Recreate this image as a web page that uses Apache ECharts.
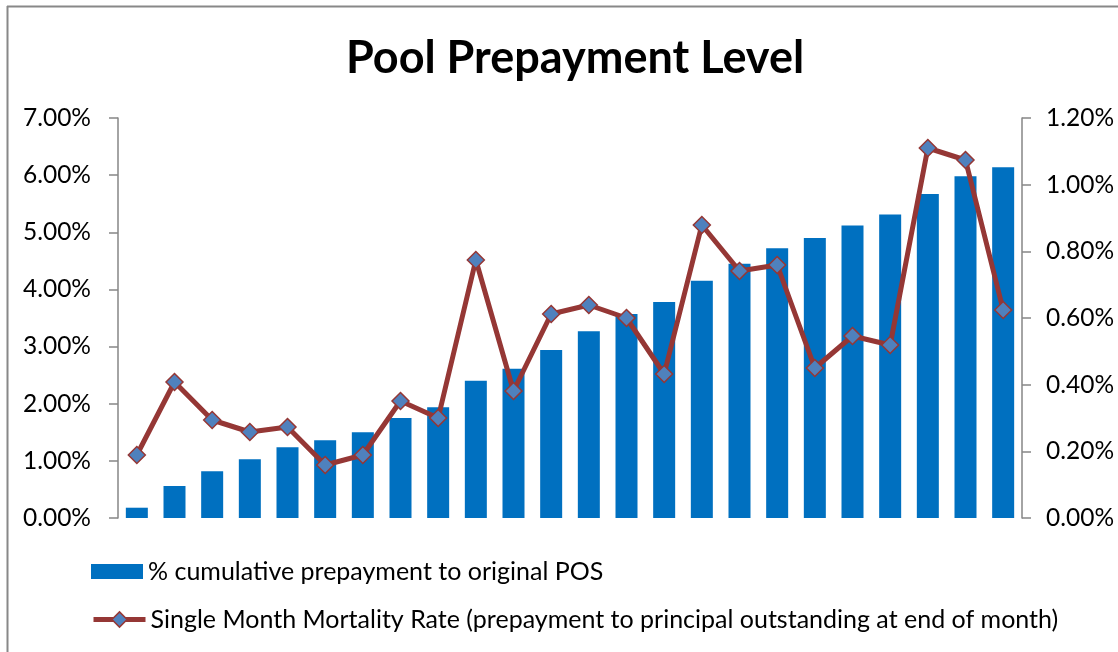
<!DOCTYPE html>
<html>
<head>
<meta charset="utf-8">
<script src="https://cdn.jsdelivr.net/npm/echarts@6/dist/echarts.min.js"></script>
<style>
html,body{margin:0;padding:0;background:#fff;}
#chart{width:1118px;height:652px;}
</style>
</head>
<body>
<div id="chart"></div>
<script>
// Data (percent values)
const categories = ['1','2','3','4','5','6','7','8','9','10','11','12','13','14','15','16','17','18','19','20','21','22','23','24'];
const cumulativePrepayment = [0.18,0.56,0.82,1.03,1.24,1.36,1.50,1.75,1.94,2.40,2.61,2.94,3.27,3.57,3.78,4.15,4.45,4.72,4.90,5.12,5.31,5.67,5.98,6.14];
const mortalityRate = [0.189,0.408,0.294,0.258,0.273,0.159,0.189,0.351,0.300,0.774,0.381,0.612,0.639,0.600,0.432,0.879,0.741,0.759,0.450,0.546,0.519,1.110,1.074,0.624];
const leftTicks = {min:0, max:7, interval:1};
const rightTicks = {min:0, max:1.2, interval:0.2};
const titleText = 'Pool Prepayment Level';
const seriesNames = ['% cumulative prepayment to original POS','Single Month Mortality Rate (prepayment to principal outstanding at end of month)'];

const font = 'Lato, "Open Sans", sans-serif';
const legendText = {fontFamily:font, fontSize:25, color:'#000'};
const chart = echarts.init(document.getElementById('chart'), null, {renderer:'canvas'});
chart.setOption({
  backgroundColor:'#fff',
  animation:false,
  title:{
    text:titleText, left:341, top:31,
    textStyle:{fontFamily:font, fontWeight:'bold', fontSize:45, color:'#000'}
  },
  graphic:[
    {type:'line', shape:{x1:7, y1:6.5, x2:1118, y2:6.5}, style:{stroke:'#888', lineWidth:2}},
    {type:'line', shape:{x1:7.5, y1:6, x2:7.5, y2:652}, style:{stroke:'#888', lineWidth:2}}
  ],
  legend:[
    {
      orient:'vertical', left:91, top:559, padding:0,
      itemWidth:52, itemHeight:15,
      textStyle:legendText,
      data:[{name:seriesNames[0], icon:'rect'}]
    },
    {
      orient:'vertical', left:91, top:607, padding:0,
      itemWidth:52, itemHeight:19,
      textStyle:legendText,
      data:[{name:seriesNames[1], lineStyle:{width:5, color:'#953735'}, itemStyle:{color:'#4F81BD', borderColor:'#953735', borderWidth:1.5}}]
    }
  ],
  grid:{left:118, right:96, top:118, height:400},
  xAxis:{
    type:'category', data:categories,
    axisLine:{show:false}, axisTick:{show:false}, axisLabel:{show:false}
  },
  yAxis:[
    {
      type:'value', position:'left', min:leftTicks.min, max:leftTicks.max, interval:leftTicks.interval,
      axisLine:{show:true, lineStyle:{color:'#868686', width:1.5}},
      axisTick:{show:true, length:9, lineStyle:{color:'#868686', width:1.5}},
      splitLine:{show:false},
      axisLabel:{margin:27, fontFamily:font, fontSize:24.5, color:'#000', formatter:v=>v.toFixed(2)+'%'}
    },
    {
      type:'value', position:'right', min:rightTicks.min, max:rightTicks.max, interval:rightTicks.interval,
      axisLine:{show:true, lineStyle:{color:'#868686', width:1.5}},
      axisTick:{show:true, length:9, lineStyle:{color:'#868686', width:1.5}},
      splitLine:{show:false},
      axisLabel:{margin:24, fontFamily:font, fontSize:24.5, color:'#000', formatter:v=>v.toFixed(2)+'%'}
    }
  ],
  series:[
    {
      name:seriesNames[0], type:'bar', yAxisIndex:0, data:cumulativePrepayment,
      barWidth:22,
      itemStyle:{color:'#0070C0'}
    },
    {
      name:seriesNames[1], type:'line', yAxisIndex:1, data:mortalityRate,
      symbol:'diamond', symbolSize:17,
      lineStyle:{color:'#953735', width:5},
      itemStyle:{color:'#4F81BD', borderColor:'#953735', borderWidth:1.5}
    }
  ]
});
</script>
</body>
</html>
